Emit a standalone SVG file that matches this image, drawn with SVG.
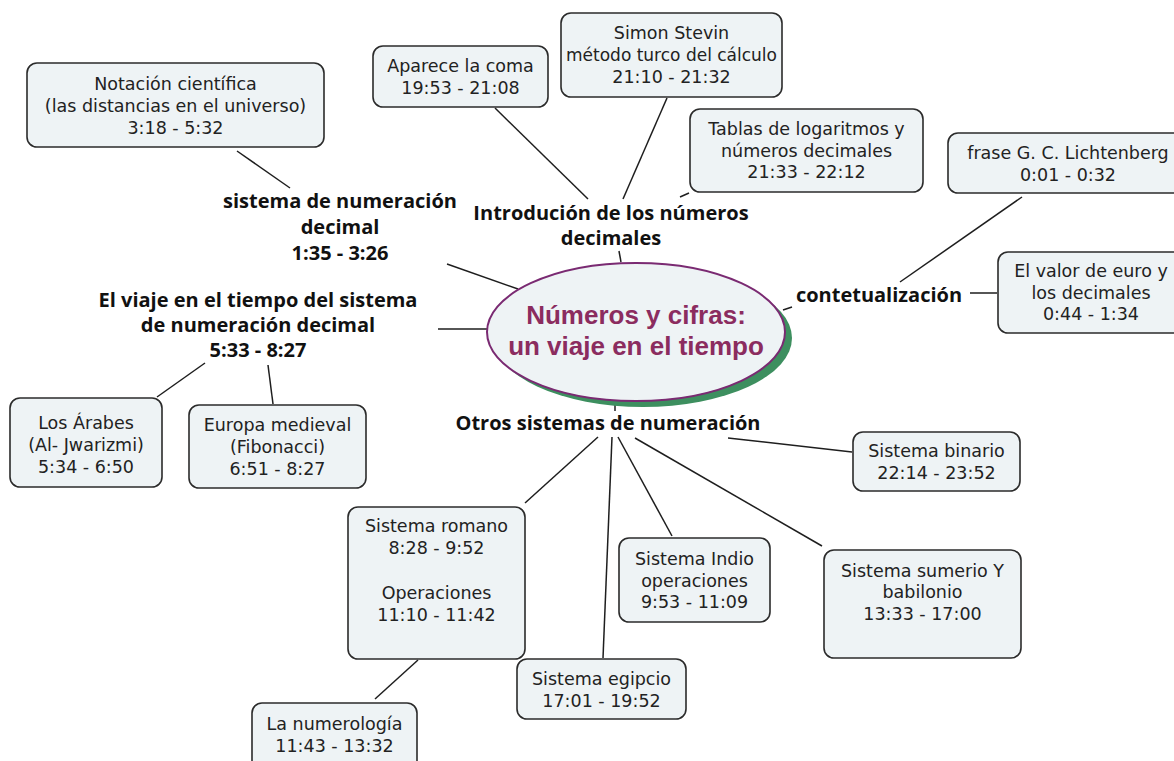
<svg xmlns="http://www.w3.org/2000/svg" width="1174" height="761" viewBox="0 0 1174 761">
  <style>
    .box { fill: #eef3f5; stroke: #2b2b2b; stroke-width: 1.6; }
    .bt { font-family: "DejaVu Sans", Verdana, sans-serif; font-size: 17.5px; fill: #222; text-anchor: middle; }
    .bt.tight { font-size: 17px; }
    .lbl { font-family: "Open Sans", "Liberation Sans", sans-serif; font-weight: 700; font-size: 20px; fill: #111; text-anchor: middle; }
    .title { font-family: "Liberation Sans", Arial, sans-serif; font-weight: 700; font-size: 26px; fill: #8b2c5f; text-anchor: middle; }
    .conn line { stroke: #1e1e1e; stroke-width: 1.5; }
  </style>
  <rect width="1174" height="761" fill="#ffffff"/>

  <!-- connectors -->
  <g id="connectors" class="conn">
    <line x1="237" y1="151" x2="290" y2="188"/>
    <line x1="447" y1="264" x2="518" y2="289"/>
    <line x1="438" y1="329" x2="487" y2="329"/>
    <line x1="205" y1="363" x2="157" y2="397"/>
    <line x1="268" y1="365" x2="273" y2="404"/>
    <line x1="495" y1="108" x2="588" y2="199"/>
    <line x1="667" y1="98" x2="623" y2="199"/>
    <line x1="680" y1="197" x2="689" y2="193"/>
    <line x1="619" y1="251" x2="621" y2="262"/>
    <line x1="783" y1="310" x2="792" y2="307"/>
    <line x1="900" y1="282" x2="1022" y2="197"/>
    <line x1="970" y1="293" x2="997" y2="293"/>
    <line x1="615" y1="404" x2="615" y2="411"/>
    <line x1="598" y1="437" x2="525" y2="503"/>
    <line x1="612" y1="437" x2="603" y2="658"/>
    <line x1="618" y1="437" x2="672" y2="536"/>
    <line x1="635" y1="438" x2="822" y2="546"/>
    <line x1="728" y1="438" x2="852" y2="452"/>
    <line x1="418" y1="660" x2="375" y2="699"/>
  </g>

  <!-- central topic -->
  <g id="central">
    <ellipse cx="643" cy="338" rx="149" ry="69" fill="#3d8f5f"/>
    <ellipse cx="636" cy="332" rx="149" ry="69" fill="#eef3f5" stroke="#7a2a72" stroke-width="2"/>
    <text class="title" x="636" y="324">Números y cifras:</text>
    <text class="title" x="636" y="355">un viaje en el tiempo</text>
  </g>

  <!-- branch labels -->
  <g id="lbl-sistema">
    <text class="lbl" x="340" y="208">sistema de numeración</text>
    <text class="lbl" x="340" y="234">decimal</text>
    <text class="lbl" x="340" y="260">1:35 - 3:26</text>
  </g>
  <g id="lbl-introduccion">
    <text class="lbl" x="611" y="220">Introdución de los números</text>
    <text class="lbl" x="611" y="245">decimales</text>
  </g>
  <g id="lbl-viaje">
    <text class="lbl" x="258" y="307">El viaje en el tiempo del sistema</text>
    <text class="lbl" x="258" y="332">de numeración decimal</text>
    <text class="lbl" x="258" y="357">5:33 - 8:27</text>
  </g>
  <g id="lbl-contextualizacion">
    <text class="lbl" x="879" y="302">contetualización</text>
  </g>
  <g id="lbl-otros">
    <text class="lbl" x="608" y="430">Otros sistemas de numeración</text>
  </g>

  <!-- leaf boxes -->
  <g id="notacion">
    <rect class="box" x="27" y="63" width="297" height="84" rx="10"/>
    <text class="bt" x="175.5" y="90">Notación científica</text>
    <text class="bt" x="175.5" y="112">(las distancias en el universo)</text>
    <text class="bt" x="175.5" y="134">3:18 - 5:32</text>
  </g>
  <g id="aparece">
    <rect class="box" x="373" y="46" width="175" height="61" rx="10"/>
    <text class="bt" x="460.5" y="72">Aparece la coma</text>
    <text class="bt" x="460.5" y="94">19:53 - 21:08</text>
  </g>
  <g id="stevin">
    <rect class="box" x="561" y="13" width="221" height="84" rx="10"/>
    <text class="bt" x="671.5" y="39">Simon Stevin</text>
    <text class="bt tight" x="671.5" y="61">método turco del cálculo</text>
    <text class="bt" x="671.5" y="83">21:10 - 21:32</text>
  </g>
  <g id="tablas">
    <rect class="box" x="690" y="109" width="233" height="83" rx="10"/>
    <text class="bt" x="806.5" y="135">Tablas de logaritmos y</text>
    <text class="bt" x="806.5" y="157">números decimales</text>
    <text class="bt" x="806.5" y="178">21:33 - 22:12</text>
  </g>
  <g id="lichtenberg">
    <rect class="box" x="948" y="133" width="250" height="60" rx="10"/>
    <text class="bt" x="1068" y="159">frase G. C. Lichtenberg</text>
    <text class="bt" x="1068" y="181">0:01 - 0:32</text>
  </g>
  <g id="euro">
    <rect class="box" x="998" y="252" width="200" height="81" rx="10"/>
    <text class="bt" x="1091" y="277">El valor de euro y</text>
    <text class="bt" x="1091" y="299">los decimales</text>
    <text class="bt" x="1091" y="320">0:44 - 1:34</text>
  </g>
  <g id="arabes">
    <rect class="box" x="10" y="398" width="152" height="89" rx="10"/>
    <text class="bt" x="86" y="429">Los Árabes</text>
    <text class="bt" x="86" y="451">(Al- Jwarizmi)</text>
    <text class="bt" x="86" y="473">5:34 - 6:50</text>
  </g>
  <g id="europa">
    <rect class="box" x="189" y="405" width="177" height="83" rx="10"/>
    <text class="bt" x="277.5" y="431">Europa medieval</text>
    <text class="bt" x="277.5" y="453">(Fibonacci)</text>
    <text class="bt" x="277.5" y="475">6:51 - 8:27</text>
  </g>
  <g id="romano">
    <rect class="box" x="348" y="507" width="177" height="152" rx="10"/>
    <text class="bt" x="436.5" y="532">Sistema romano</text>
    <text class="bt" x="436.5" y="554">8:28 - 9:52</text>
    <text class="bt" x="436.5" y="599">Operaciones</text>
    <text class="bt" x="436.5" y="621">11:10 - 11:42</text>
  </g>
  <g id="egipcio">
    <rect class="box" x="517" y="659" width="169" height="60" rx="10"/>
    <text class="bt" x="601.5" y="685">Sistema egipcio</text>
    <text class="bt" x="601.5" y="707">17:01 - 19:52</text>
  </g>
  <g id="numerologia">
    <rect class="box" x="252" y="703" width="165" height="72" rx="10"/>
    <text class="bt" x="334.5" y="730">La numerología</text>
    <text class="bt" x="334.5" y="752">11:43 - 13:32</text>
  </g>
  <g id="indio">
    <rect class="box" x="619" y="538" width="151" height="84" rx="10"/>
    <text class="bt" x="694.5" y="565">Sistema Indio</text>
    <text class="bt" x="694.5" y="587">operaciones</text>
    <text class="bt" x="694.5" y="608">9:53 - 11:09</text>
  </g>
  <g id="sumerio">
    <rect class="box" x="824" y="550" width="197" height="108" rx="10"/>
    <text class="bt" x="922.5" y="577">Sistema sumerio Y</text>
    <text class="bt" x="922.5" y="598">babilonio</text>
    <text class="bt" x="922.5" y="620">13:33 - 17:00</text>
  </g>
  <g id="binario">
    <rect class="box" x="853" y="432" width="167" height="59" rx="10"/>
    <text class="bt" x="936.5" y="457">Sistema binario</text>
    <text class="bt" x="936.5" y="479">22:14 - 23:52</text>
  </g>
</svg>
